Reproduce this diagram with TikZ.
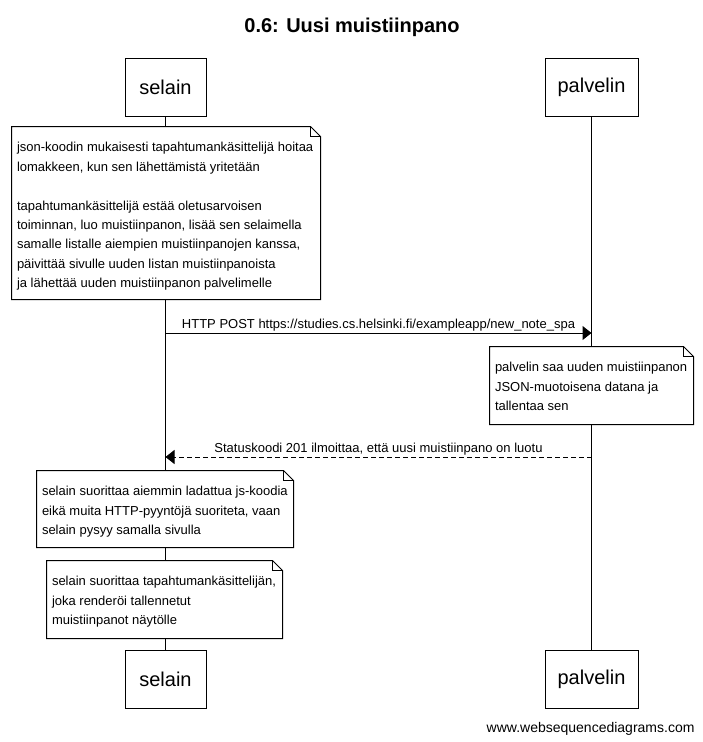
\documentclass[tikz,border=0pt]{standalone}
\usepackage{fontspec}
\setmainfont{Liberation Sans}
\usetikzlibrary{arrows.meta}
\begin{document}
\begin{tikzpicture}[x=1pt,y=-1pt,line width=1pt,
  actor/.style={draw,minimum height=58pt,inner sep=0pt,font=\fontsize{20}{24}\selectfont},
  notearea/.style={inner sep=0pt},
  notetext/.style={anchor=north west,inner sep=0pt,align=left,font=\fontsize{13}{19.4}\selectfont},
  msg/.style={-{Triangle[length=9pt,width=14pt]}},
  reply/.style={msg,dash pattern=on 5pt off 3pt},
  lbl/.style={anchor=base,inner sep=0pt,font=\fontsize{13}{15}\selectfont},
  notefold/.style={draw,fill=white}
]
\useasboundingbox[fill=white] (0,0) rectangle (703,742);

\node[anchor=base,inner sep=0pt,font=\fontsize{20}{24}\selectfont\bfseries] (title) at (352,32) {0.6: Uusi muistiinpano};

% actors
\node[actor,minimum width=81pt] (st) at (165.5,87) {selain};
\node[actor,minimum width=93pt] (pt) at (591.5,87) {palvelin};
\node[actor,minimum width=81pt] (sb) at (165.5,679.5) {selain};
\node[actor,minimum width=93pt] (pb) at (591.5,679.5) {palvelin};

% lifelines
\draw (st.south) -- (sb.north);
\draw (pt.south) -- (pb.north);

% note macro-like drawing
\newcommand\drawnote[1]{%
  \draw[notefold] (#1.north west) -- ([xshift=-10pt]#1.north east) -- ([yshift=-10pt]#1.north east) -- (#1.south east) -- (#1.south west) -- cycle;
  \draw ([xshift=-10pt]#1.north east) |- ([yshift=-10pt]#1.north east);
}

% note 1
\node[notearea,minimum width=308pt,minimum height=172pt] (n1) at (166,213) {};
\drawnote{n1}
\node[notetext] (t1) at ([xshift=5pt,yshift=-11.4pt]n1.north west) {\strut json-koodin mukaisesti tapahtumankäsittelijä hoitaa\\lomakkeen, kun sen lähettämistä yritetään\\[19.4pt]tapahtumankäsittelijä estää oletusarvoisen\\toiminnan, luo muistiinpanon, lisää sen selaimella\\samalle listalle aiempien muistiinpanojen kanssa,\\päivittää sivulle uuden listan muistiinpanoista\\ja lähettää uuden muistiinpanon palvelimelle};

% message 1
\coordinate (m1) at (0,333);
\draw[msg] (st |- m1) -- (pt |- m1);
\node[lbl] (l1) at (378.5,328.5) {HTTP POST https://studies.cs.helsinki.fi/exampleapp/new\_note\_spa};

% note 2
\node[notearea,minimum width=203pt,minimum height=77pt] (n2) at (591.5,385.5) {};
\drawnote{n2}
\node[notetext] (t2) at ([xshift=5pt,yshift=-11.4pt]n2.north west) {\strut palvelin saa uuden muistiinpanon\\JSON-muotoisena datana ja\\tallentaa sen};

% message 2
\coordinate (m2) at (0,457);
\draw[reply] (pt |- m2) -- (st |- m2);
\node[lbl] (l2) at (378.5,452) {Statuskoodi 201 ilmoittaa, että uusi muistiinpano on luotu};

% note 3
\node[notearea,minimum width=256pt,minimum height=76pt] (n3) at (165,509) {};
\drawnote{n3}
\node[notetext] (t3) at ([xshift=5pt,yshift=-11.4pt]n3.north west) {\strut selain suorittaa aiemmin ladattua js-koodia\\eikä muita HTTP-pyyntöjä suoriteta, vaan\\selain pysyy samalla sivulla};

% note 4
\node[notearea,minimum width=235pt,minimum height=77pt] (n4) at (164.5,599.5) {};
\drawnote{n4}
\node[notetext] (t4) at ([xshift=5pt,yshift=-11.4pt]n4.north west) {\strut selain suorittaa tapahtumankäsittelijän,\\joka renderöi tallennetut\\muistiinpanot näytölle};

\node[anchor=base east,inner sep=0pt,font=\fontsize{14}{16}\selectfont] (foot) at (695,732) {www.websequencediagrams.com};
\end{tikzpicture}
\end{document}
